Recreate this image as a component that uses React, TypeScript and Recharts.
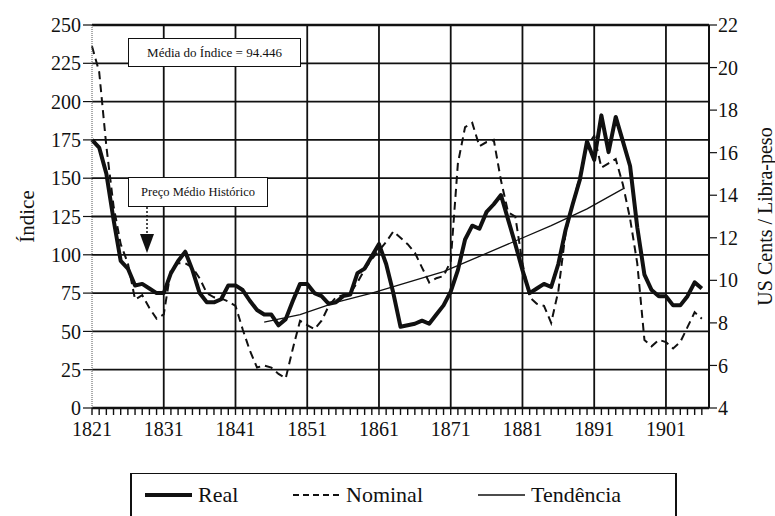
import React from 'react'
import { LineChart, Line, XAxis, YAxis, ReferenceLine } from 'recharts'

// Índice real (eixo esquerdo), 1821-1906
const real = [
  175, 170, 153, 123, 96, 91, 80, 81, 78, 75,
  75, 88, 96, 102, 90, 75, 69, 69, 71, 80,
  80, 77, 70, 64, 61, 61, 54, 58, 70, 81,
  81, 75, 73, 68, 69, 73, 74, 88, 91, 99,
  107, 94, 75, 53, 54, 55, 57, 55, 61, 67,
  76, 90, 110, 119, 117, 128, 133, 139, 123, 107,
  90, 75, 78, 81, 79, 94, 116, 133, 149, 174,
  162, 191, 167, 190, 174, 158, 118, 87, 77, 73,
  73, 67, 67, 73, 82, 78,
]

// Preço nominal em US cents / libra-peso (eixo direito), 1821-1906
const nominal = [
  21.0, 19.8, 16.3, 13.5, 11.7, 10.8, 9.1, 9.3, 8.7, 8.2,
  8.4, 10.5, 10.8, 10.8, 10.6, 10.1, 9.4, 9.2, 9.15, 9.0,
  8.8, 7.7, 6.7, 5.9, 6.0, 5.9, 5.6, 5.4, 6.8, 8.1,
  7.9, 7.7, 8.1, 8.8, 9.2, 9.3, 9.4, 9.9, 10.5, 11.0,
  11.4, 11.8, 12.3, 12.0, 11.7, 11.3, 10.6, 9.9, 10.1, 10.2,
  10.9, 15.5, 17.2, 17.4, 16.3, 16.5, 16.6, 14.7, 13.2, 13.0,
  10.8, 9.2, 8.9, 8.8, 8.0, 9.5, 12.2, 13.6, 14.9, 16.3,
  16.8, 15.3, 15.5, 15.7, 14.5, 12.9, 10.8, 7.2, 6.9, 7.2,
  7.1, 6.8, 7.1, 7.8, 8.5, 8.2,
]

// Tendência (eixo esquerdo)
const trendYears = [1845, 1850, 1855, 1860, 1865, 1870, 1875, 1880, 1885, 1890, 1895]
const trendValues = [56, 61, 69, 75, 82, 89, 99, 109, 119, 130, 143]

const firstYear = 1821
const years = real.map((_, i) => firstYear + i)
const decadeTicks = [1821, 1831, 1841, 1851, 1861, 1871, 1881, 1891, 1901]
const indexTicks = [0, 25, 50, 75, 100, 125, 150, 175, 200, 225, 250]
const centsTicks = [4, 6, 8, 10, 12, 14, 16, 18, 20, 22]
const gridIndex = [25, 50, 75, 100, 125, 150, 175, 200, 225, 250]
const gridYears = [1831, 1841, 1851, 1861, 1871, 1881, 1891, 1901]

const data = years.map((year, i) => {
  const t = trendYears.indexOf(year)
  return {
    year,
    real: real[i],
    nominal: nominal[i],
    trend: t >= 0 ? trendValues[t] : undefined,
  }
})

const serif = "'Liberation Serif', 'Times New Roman', serif"
const ink = '#111'
const tickFont = { fontFamily: serif, fontSize: 20, fill: ink }

const YearTick = (props: any) => {
  const { x, y, payload } = props
  if (!decadeTicks.includes(payload.value)) return null
  return (
    <text x={x} y={y} dy="0.71em" textAnchor="middle" fontFamily={serif} fontSize={20} fill={ink}>
      {payload.value}
    </text>
  )
}

const boxStyle: React.CSSProperties = {
  position: 'absolute',
  boxSizing: 'border-box',
  border: `1.5px solid ${ink}`,
  background: '#fff',
  fontFamily: serif,
  color: ink,
  display: 'flex',
  alignItems: 'center',
  justifyContent: 'center',
  whiteSpace: 'nowrap',
}

const legendItems = [
  { label: 'Real', width: 4, dash: undefined as string | undefined, left: 12 },
  { label: 'Nominal', width: 2, dash: '6 4', left: 160 },
  { label: 'Tendência', width: 1.3, dash: undefined, left: 345 },
]

export default function App() {
  return (
    <div style={{ position: 'absolute', left: 0, top: 0, width: 775, height: 516, overflow: 'hidden', background: '#fff', fontFamily: serif }}>
      <LineChart width={775} height={516} data={data} margin={{ top: 25, right: 0, bottom: 78, left: 0 }}>
        <XAxis
          dataKey="year"
          type="number"
          domain={[1821, 1907]}
          ticks={years}
          interval={0}
          tickSize={7}
          tickMargin={7}
          height={30}
          tick={YearTick}
          axisLine={{ stroke: ink, strokeWidth: 2.5 }}
          tickLine={{ stroke: ink, strokeWidth: 1.4 }}
        />
        <YAxis
          yAxisId="left"
          domain={[0, 250]}
          ticks={indexTicks}
          interval={0}
          width={92}
          tickSize={9}
          tickMargin={2}
          tick={tickFont}
          axisLine={{ stroke: '#555', strokeWidth: 1, strokeDasharray: '1 1' }}
          tickLine={{ stroke: ink, strokeWidth: 1.2 }}
          label={{ value: 'Índice', angle: -90, position: 'insideLeft', offset: 27, style: { textAnchor: 'middle', fontFamily: serif, fontSize: 21, fill: ink } }}
        />
        <YAxis
          yAxisId="right"
          orientation="right"
          domain={[4, 22]}
          ticks={centsTicks}
          interval={0}
          width={66}
          tickSize={8}
          tickMargin={1}
          tick={tickFont}
          axisLine={{ stroke: ink, strokeWidth: 2 }}
          tickLine={{ stroke: ink, strokeWidth: 1.2 }}
          label={{ value: 'US Cents / Libra-peso', angle: -90, position: 'insideRight', offset: 10, style: { textAnchor: 'middle', fontFamily: serif, fontSize: 20, fill: ink } }}
        />
        {gridIndex.map((v) => (
          <ReferenceLine key={'h' + v} yAxisId="left" y={v} stroke={ink} strokeWidth={v === 250 ? 2.4 : 1.8} />
        ))}
        {gridYears.map((y) => (
          <ReferenceLine key={'v' + y} yAxisId="left" x={y} stroke={ink} strokeWidth={1.8} />
        ))}
        <Line yAxisId="left" type="linear" dataKey="trend" stroke={ink} strokeWidth={1.3} dot={false} connectNulls isAnimationActive={false} />
        <Line yAxisId="right" type="linear" dataKey="nominal" stroke={ink} strokeWidth={2} strokeDasharray="8 5" dot={false} isAnimationActive={false} />
        <Line yAxisId="left" type="linear" dataKey="real" stroke={ink} strokeWidth={4} strokeLinejoin="round" dot={false} isAnimationActive={false} />
      </LineChart>

      <div style={{ ...boxStyle, left: 128, top: 38, width: 173, height: 29, fontSize: 13 }}>Média do Índice = 94.446</div>
      <div style={{ ...boxStyle, left: 128, top: 177, width: 140, height: 30, fontSize: 12.5 }}>Preço Médio Histórico</div>
      <svg style={{ position: 'absolute', left: 0, top: 0 }} width={775} height={516}>
        <line x1={147} y1={207} x2={147} y2={236} stroke={ink} strokeWidth={1.5} strokeDasharray="2 2" />
        <polygon points="140,234 154,234 147,253" fill={ink} />
      </svg>

      <div style={{ position: 'absolute', left: 130, top: 473, width: 547, height: 43, boxSizing: 'border-box', borderTop: `1.5px solid ${ink}`, borderLeft: `2px solid ${ink}`, borderRight: `2px solid ${ink}`, background: '#fff' }}>
        {legendItems.map((it) => (
          <div key={it.label} style={{ position: 'absolute', left: it.left, top: 8, display: 'flex', alignItems: 'center', fontFamily: serif, fontSize: 22, color: ink }}>
            <svg width={50} height={20}>
              <line x1={1} y1={10} x2={48} y2={10} stroke={ink} strokeWidth={it.width} strokeDasharray={it.dash} />
            </svg>
            <span style={{ marginLeft: 4 }}>{it.label}</span>
          </div>
        ))}
      </div>
    </div>
  )
}
